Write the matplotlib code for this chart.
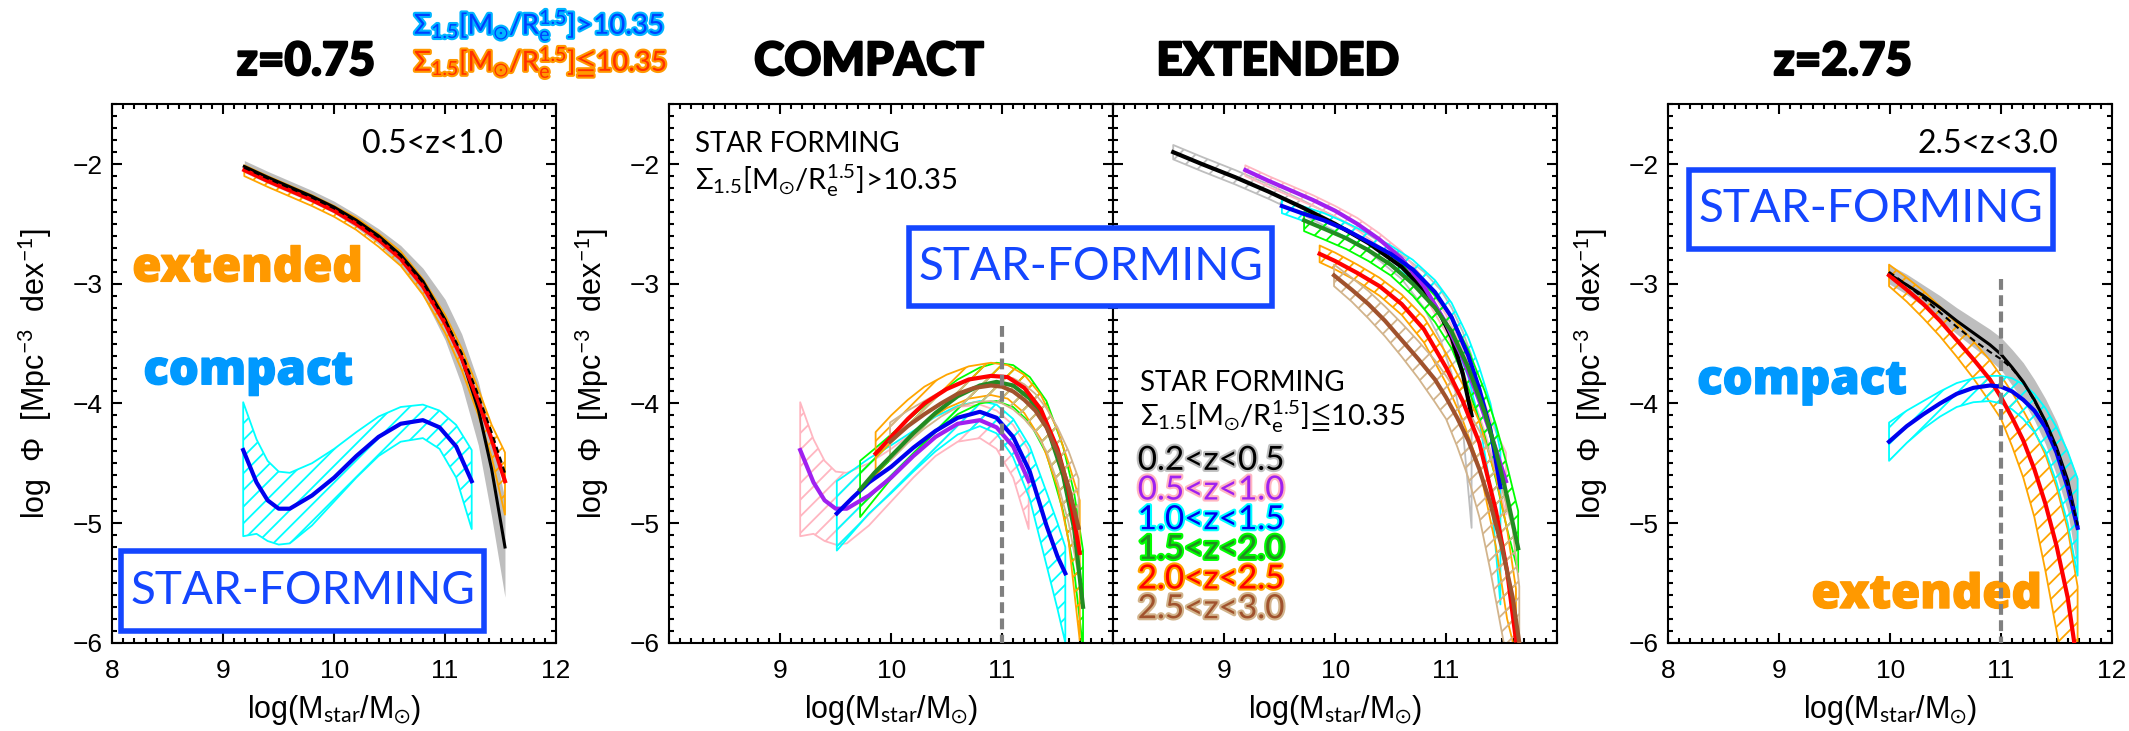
import matplotlib
matplotlib.use('Agg')
import matplotlib.pyplot as plt
import matplotlib.patheffects as pe
from matplotlib.patches import Rectangle
from matplotlib.ticker import MultipleLocator

plt.rcParams['font.family'] = ['Lato', 'DejaVu Sans']
plt.rcParams['mathtext.fontset'] = 'custom'
plt.rcParams['mathtext.rm'] = 'Lato'
plt.rcParams['mathtext.it'] = 'Lato:italic'
plt.rcParams['mathtext.bf'] = 'Lato:bold'
plt.rcParams['mathtext.sf'] = 'Lato'
plt.rcParams['mathtext.fallback'] = 'stixsans'
plt.rcParams['hatch.linewidth'] = 1.3

# ---------------- data (log stellar mass, log Phi) ----------------
# 0.5<z<1.0 (left panel; also the purple/pink curves of the middle panels)
LOWZ_X = [9.19, 9.4, 9.6, 9.8, 10.0, 10.2, 10.4, 10.6, 10.8, 11.0, 11.15, 11.3, 11.42, 11.54]
LOWZ_EXT = [-2.05, -2.14, -2.22, -2.30, -2.39, -2.50, -2.63, -2.79, -3.02, -3.33, -3.62, -3.98, -4.30, -4.65]
LOWZ_EXT_HI = [-2.01, -2.10, -2.18, -2.26, -2.35, -2.45, -2.58, -2.73, -2.96, -3.26, -3.54, -3.88, -4.18, -4.41]
LOWZ_EXT_LO = [-2.10, -2.19, -2.27, -2.35, -2.44, -2.55, -2.69, -2.85, -3.09, -3.41, -3.72, -4.10, -4.45, -4.93]
LOWZ_TOT = [-2.02, -2.11, -2.19, -2.27, -2.36, -2.47, -2.60, -2.76, -2.98, -3.30, -3.62, -4.05, -4.55, -5.20]
LOWZ_TOT_HI = [-1.97, -2.06, -2.14, -2.22, -2.31, -2.42, -2.54, -2.68, -2.87, -3.13, -3.42, -3.82, -4.28, -4.80]
LOWZ_TOT_LO = [-2.07, -2.16, -2.24, -2.32, -2.41, -2.53, -2.67, -2.85, -3.10, -3.47, -3.85, -4.35, -4.95, -5.62]
LOWZ_SUM = [-2.03, -2.12, -2.20, -2.28, -2.37, -2.48, -2.61, -2.77, -2.99, -3.30, -3.58, -3.93, -4.24, -4.58]

LOWZ_CX = [9.18, 9.3, 9.4, 9.5, 9.6, 9.8, 10.0, 10.2, 10.4, 10.6, 10.8, 10.95, 11.1, 11.24]
LOWZ_CMP = [-4.39, -4.66, -4.81, -4.88, -4.88, -4.77, -4.62, -4.44, -4.28, -4.17, -4.14, -4.20, -4.36, -4.65]
LOWZ_CMP_HI = [-3.99, -4.30, -4.48, -4.57, -4.58, -4.50, -4.38, -4.24, -4.11, -4.03, -4.01, -4.06, -4.18, -4.39]
LOWZ_CMP_LO = [-5.11, -5.09, -5.15, -5.18, -5.17, -5.02, -4.82, -4.62, -4.44, -4.32, -4.29, -4.38, -4.62, -5.05]

# 2.5<z<3.0 (right panel; also the brown/tan curves of the middle panels)
HIZ_X = [9.99, 10.15, 10.3, 10.45, 10.6, 10.75, 10.9, 11.0, 11.1, 11.2, 11.3, 11.4, 11.5, 11.6, 11.69]
HIZ_TOT = [-2.92, -3.01, -3.10, -3.20, -3.31, -3.41, -3.51, -3.59, -3.70, -3.82, -3.97, -4.15, -4.37, -4.64, -5.02]
HIZ_TOT_HI = [-2.84, -2.92, -3.01, -3.10, -3.20, -3.29, -3.38, -3.45, -3.55, -3.66, -3.80, -3.96, -4.15, -4.40, -4.62]
HIZ_TOT_LO = [-3.00, -3.09, -3.19, -3.30, -3.42, -3.53, -3.64, -3.72, -3.85, -3.98, -4.14, -4.34, -4.60, -4.90, -5.40]
HIZ_SUM = [-2.90, -3.01, -3.12, -3.24, -3.36, -3.47, -3.57, -3.63, -3.71, -3.82, -3.98, -4.15, -4.38, -4.68, -5.02]
HIZ_EXT_X = [9.99, 10.15, 10.3, 10.45, 10.6, 10.75, 10.9, 11.0, 11.1, 11.2, 11.3, 11.4, 11.5, 11.6, 11.66]
HIZ_EXT = [-2.93, -3.05, -3.17, -3.31, -3.47, -3.63, -3.80, -3.95, -4.12, -4.31, -4.55, -4.84, -5.19, -5.62, -6.00]
HIZ_EXT_HI = [-2.84, -2.95, -3.06, -3.19, -3.33, -3.48, -3.64, -3.77, -3.91, -4.06, -4.23, -4.43, -4.70, -5.05, -5.53]
HIZ_EXT_LO = [-3.02, -3.15, -3.29, -3.44, -3.61, -3.79, -3.99, -4.13, -4.36, -4.62, -4.95, -5.40, -5.90, -6.40, -6.60]
HIZ_CMP = [-4.32, -4.19, -4.09, -4.00, -3.92, -3.87, -3.85, -3.86, -3.90, -3.97, -4.06, -4.20, -4.41, -4.70, -5.04]
HIZ_CMP_HI = [-4.16, -4.06, -3.98, -3.90, -3.83, -3.79, -3.77, -3.77, -3.79, -3.84, -3.92, -4.04, -4.20, -4.40, -4.63]
HIZ_CMP_LO = [-4.48, -4.33, -4.21, -4.11, -4.03, -3.99, -3.98, -4.00, -4.05, -4.13, -4.24, -4.40, -4.66, -5.00, -5.44]

# compact, other redshift bins
Z10C_X = [9.51, 9.65, 9.8, 10.0, 10.2, 10.4, 10.6, 10.8, 10.95, 11.1, 11.25, 11.4, 11.5, 11.57]
Z10C = [-4.92, -4.79, -4.66, -4.53, -4.37, -4.23, -4.12, -4.07, -4.12, -4.28, -4.57, -5.02, -5.28, -5.42]
Z10C_HI = [-4.65, -4.56, -4.46, -4.35, -4.23, -4.11, -4.02, -3.98, -4.01, -4.13, -4.36, -4.74, -5.00, -5.20]
Z10C_LO = [-5.23, -5.08, -4.92, -4.75, -4.57, -4.40, -4.26, -4.19, -4.25, -4.45, -4.80, -5.35, -5.72, -6.00]
Z15C_X = [9.72, 9.85, 10.0, 10.2, 10.4, 10.6, 10.8, 10.95, 11.1, 11.25, 11.4, 11.55, 11.65, 11.73]
Z15C = [-4.72, -4.58, -4.44, -4.25, -4.08, -3.94, -3.85, -3.82, -3.85, -3.96, -4.18, -4.60, -5.05, -5.70]
Z15C_HI = [-4.48, -4.38, -4.26, -4.10, -3.94, -3.80, -3.70, -3.66, -3.68, -3.78, -3.98, -4.36, -4.75, -5.23]
Z15C_LO = [-4.95, -4.80, -4.63, -4.42, -4.24, -4.09, -4.00, -3.98, -4.03, -4.16, -4.42, -4.90, -5.40, -6.05]
Z20C_X = [9.86, 10.0, 10.15, 10.3, 10.5, 10.7, 10.9, 11.05, 11.2, 11.35, 11.5, 11.6, 11.7]
Z20C = [-4.42, -4.28, -4.13, -4.00, -3.88, -3.80, -3.77, -3.78, -3.87, -4.05, -4.38, -4.72, -5.25]
Z20C_HI = [-4.24, -4.10, -3.97, -3.86, -3.76, -3.69, -3.66, -3.68, -3.76, -3.93, -4.22, -4.50, -4.81]
Z20C_LO = [-4.60, -4.45, -4.30, -4.16, -4.04, -3.96, -3.93, -3.96, -4.08, -4.30, -4.70, -5.15, -5.98]

# extended, other redshift bins
Z02E_X = [8.54, 8.8, 9.1, 9.4, 9.7, 10.0, 10.3, 10.6, 10.8, 10.95, 11.05, 11.15, 11.23]
Z02E = [-1.90, -2.00, -2.11, -2.23, -2.36, -2.50, -2.66, -2.86, -3.05, -3.26, -3.45, -3.75, -4.10]
Z02E_HI = [-1.84, -1.94, -2.05, -2.17, -2.30, -2.44, -2.59, -2.76, -2.90, -3.05, -3.20, -3.40, -3.60]
Z02E_LO = [-1.96, -2.06, -2.17, -2.29, -2.42, -2.56, -2.73, -2.96, -3.20, -3.47, -3.75, -4.20, -5.04]
Z10E_X = [9.52, 9.7, 9.9, 10.1, 10.3, 10.5, 10.7, 10.9, 11.05, 11.2, 11.3, 11.4, 11.49]
Z10E = [-2.35, -2.41, -2.47, -2.55, -2.65, -2.75, -2.88, -3.07, -3.28, -3.60, -3.88, -4.22, -4.70]
Z10E_HI = [-2.29, -2.35, -2.41, -2.49, -2.58, -2.68, -2.80, -2.97, -3.16, -3.45, -3.70, -4.00, -4.40]
Z10E_LO = [-2.41, -2.47, -2.53, -2.61, -2.72, -2.83, -2.97, -3.18, -3.42, -3.78, -4.15, -4.70, -5.68]
Z15E_X = [9.72, 9.9, 10.1, 10.3, 10.5, 10.7, 10.9, 11.05, 11.2, 11.35, 11.45, 11.55, 11.65]
Z15E = [-2.47, -2.54, -2.62, -2.72, -2.84, -3.00, -3.20, -3.40, -3.70, -4.08, -4.40, -4.78, -5.21]
Z15E_HI = [-2.40, -2.47, -2.55, -2.65, -2.76, -2.91, -3.10, -3.28, -3.55, -3.90, -4.18, -4.52, -4.90]
Z15E_LO = [-2.56, -2.63, -2.71, -2.81, -2.93, -3.10, -3.32, -3.54, -3.87, -4.28, -4.64, -5.05, -5.41]
Z20E_X = [9.86, 10.0, 10.2, 10.4, 10.6, 10.8, 11.0, 11.15, 11.3, 11.45, 11.55, 11.63]
Z20E = [-2.75, -2.81, -2.91, -3.02, -3.17, -3.38, -3.70, -3.98, -4.33, -4.90, -5.40, -5.98]
Z20E_HI = [-2.68, -2.74, -2.84, -2.95, -3.09, -3.28, -3.58, -3.84, -4.15, -4.62, -5.05, -5.55]
Z20E_LO = [-2.82, -2.88, -2.98, -3.10, -3.26, -3.49, -3.83, -4.14, -4.53, -5.20, -5.80, -6.10]

ZBINS = ['0.2<z<0.5', '0.5<z<1.0', '1.0<z<1.5', '1.5<z<2.0', '2.0<z<2.5', '2.5<z<3.0']
LINE_COLORS = ['#000000', '#a020f0', '#0000ee', '#228b22', '#ff0000', '#a0522d']
BAND_COLORS = ['#bebebe', '#ffb6c1', '#00ffff', '#00ff00', '#ffa500', '#d2b48c']
TITLES = ['z=0.75', 'COMPACT', 'EXTENDED', 'z=2.75']

SIG_GT = r'$\Sigma_{1.5}[\mathrm{M}_{\odot}/\mathrm{R}_{\mathrm{e}}^{1.5}]\!>\!10.35$'
SIG_LE = r'$\Sigma_{1.5}[\mathrm{M}_{\odot}/\mathrm{R}_{\mathrm{e}}^{1.5}]\!\leqq\!10.35$'

W, H = 2129, 731
BOXBLUE = '#1446ff'
TICKFONT = 'Liberation Sans'

fig = plt.figure(figsize=(W / 100, H / 100), dpi=100)
bot, hgt = 88.3 / H, 538.4 / H
lefts = [112.3, 669.3, 1113.3, 1668.3]
axes = [fig.add_axes([l / W, bot, 443.7 / W, hgt]) for l in lefts]


def band(ax, x, lo, hi, color, solid=False):
    if solid:
        ax.fill_between(x, lo, hi, color=color, lw=0, zorder=1)
    else:
        ax.fill_between(x, lo, hi, facecolor='none', edgecolor=color,
                        hatch='//', lw=1.3, zorder=2)


def setup(ax, xlabels, ylabels):
    ax.set_xlim(8, 12)
    ax.set_ylim(-6, -1.5)
    ax.set_xticks([8, 9, 10, 11, 12])
    ax.set_xticklabels(xlabels)
    ax.set_yticks([-6, -5, -4, -3, -2])
    ax.xaxis.set_minor_locator(MultipleLocator(0.1))
    ax.yaxis.set_minor_locator(MultipleLocator(0.1))
    ax.tick_params(which='both', direction='in', top=True, right=True, width=1.5)
    ax.tick_params(which='major', length=7)
    ax.tick_params(which='minor', length=3.5)
    ax.tick_params(axis='x', pad=12, labelsize=19)
    ax.tick_params(axis='y', pad=7, labelsize=19, labelleft=ylabels)
    for lab in ax.get_xticklabels() + ax.get_yticklabels():
        lab.set_family(TICKFONT)
    for s in ax.spines.values():
        s.set_linewidth(1.5)
    ax.set_xlabel(r'log(M$_{\mathrm{star}}$/M$_{\odot}$)', fontsize=22,
                  family=TICKFONT, va='center')
    ax.xaxis.set_label_coords(0.5, -0.125)
    if ylabels:
        ax.set_ylabel('log  Φ  [Mpc$^{-3}$  dex$^{-1}$]', fontsize=22,
                      family=TICKFONT, va='center')
        ax.yaxis.set_label_coords(-0.174, 0.5)


def heavy(ax, x, y, s, color):
    ax.text(x, y, s, color=color, fontsize=34, family=['Open Sans', 'Lato'],
            fontweight=800, va='baseline',
            path_effects=[pe.withStroke(linewidth=1, foreground=color)])


full = ['8', '9', '10', '11', '12']
inner = ['', '9', '10', '11', '']
setup(axes[0], full, True)
setup(axes[1], inner, True)
setup(axes[2], inner, False)
setup(axes[3], full, True)

# left panel: 0.5<z<1.0
ax = axes[0]
band(ax, LOWZ_X, LOWZ_TOT_LO, LOWZ_TOT_HI, '#bebebe', solid=True)
band(ax, LOWZ_X, LOWZ_EXT_LO, LOWZ_EXT_HI, '#ffa500')
band(ax, LOWZ_CX, LOWZ_CMP_LO, LOWZ_CMP_HI, '#00ffff')
ax.plot(LOWZ_X, LOWZ_TOT, color='k', lw=2.2, zorder=3)
ax.plot(LOWZ_X, LOWZ_EXT, color='#ff0000', lw=3, zorder=4)
ax.plot(LOWZ_X, LOWZ_SUM, color='k', lw=1.5, ls=(0, (3, 2)), zorder=5)
ax.plot(LOWZ_CX, LOWZ_CMP, color='#0000ee', lw=3, zorder=4)
ax.text(11.52, -1.83, '0.5<z<1.0', ha='right', va='center', fontsize=23)
heavy(ax, 8.18, -2.98, 'extended', '#ff9900')
heavy(ax, 8.28, -3.84, 'compact', '#0099ff')

# compact panel
ax = axes[1]
cmp_bins = [None,
            (LOWZ_CX, LOWZ_CMP, LOWZ_CMP_LO, LOWZ_CMP_HI),
            (Z10C_X, Z10C, Z10C_LO, Z10C_HI),
            (Z15C_X, Z15C, Z15C_LO, Z15C_HI),
            (Z20C_X, Z20C, Z20C_LO, Z20C_HI),
            (HIZ_X, HIZ_CMP, HIZ_CMP_LO, HIZ_CMP_HI)]
for i, b in enumerate(cmp_bins):
    if b is None:
        continue
    band(ax, b[0], b[2], b[3], BAND_COLORS[i])
    ax.plot(b[0], b[1], color=LINE_COLORS[i], lw=3, zorder=3)
ax.plot([11, 11], [-3.35, -6], color='#808080', lw=3, ls=(0, (2.6, 1.3)), zorder=6)
ax.text(8.23, -1.83, 'STAR FORMING', va='center', fontsize=20)
ax.text(8.23, -2.14, SIG_GT, va='center', fontsize=21)

# extended panel
ax = axes[2]
ext_bins = [(Z02E_X, Z02E, Z02E_LO, Z02E_HI),
            (LOWZ_X, LOWZ_EXT, LOWZ_EXT_LO, LOWZ_EXT_HI),
            (Z10E_X, Z10E, Z10E_LO, Z10E_HI),
            (Z15E_X, Z15E, Z15E_LO, Z15E_HI),
            (Z20E_X, Z20E, Z20E_LO, Z20E_HI),
            (HIZ_EXT_X, HIZ_EXT, HIZ_EXT_LO, HIZ_EXT_HI)]
for i, b in enumerate(ext_bins):
    band(ax, b[0], b[2], b[3], BAND_COLORS[i])
    ax.plot(b[0], b[1], color=LINE_COLORS[i], lw=3, zorder=3)
ax.text(8.24, -3.83, 'STAR FORMING', va='center', fontsize=20)
ax.text(8.24, -4.11, SIG_LE, va='center', fontsize=21)
for i, lab in enumerate(ZBINS):
    ax.text(8.22, -4.48 - 0.248 * i, lab, va='center', fontsize=24,
            color=LINE_COLORS[i], zorder=8,
            path_effects=[pe.withStroke(linewidth=3, foreground=BAND_COLORS[i])])

# right panel: 2.5<z<3.0
ax = axes[3]
band(ax, HIZ_X, HIZ_TOT_LO, HIZ_TOT_HI, '#bebebe', solid=True)
band(ax, HIZ_X, HIZ_EXT_LO, HIZ_EXT_HI, '#ffa500')
band(ax, HIZ_X, HIZ_CMP_LO, HIZ_CMP_HI, '#00ffff')
ax.plot(HIZ_X, HIZ_TOT, color='k', lw=2.2, zorder=3)
ax.plot(HIZ_EXT_X, HIZ_EXT, color='#ff0000', lw=3, zorder=4)
ax.plot(HIZ_X, HIZ_CMP, color='#0000ee', lw=3, zorder=4)
ax.plot(HIZ_X, HIZ_SUM, color='k', lw=1.5, ls=(0, (3, 2)), zorder=5)
ax.plot([11, 11], [-2.96, -6], color='#808080', lw=3, ls=(0, (2.6, 1.3)), zorder=6)
ax.text(11.52, -1.83, '2.5<z<3.0', ha='right', va='center', fontsize=23)
heavy(ax, 8.26, -3.92, 'compact', '#0099ff')
heavy(ax, 9.29, -5.71, 'extended', '#ff9900')

# STAR-FORMING boxes (figure pixel coordinates, y from top)
for x0, y0, x1, y1 in [(121, 551, 484, 631), (909, 228, 1272, 306), (1689, 170, 2053, 249)]:
    fig.add_artist(Rectangle((x0 / W, 1 - y1 / H), (x1 - x0) / W, (y1 - y0) / H,
                             transform=fig.transFigure, facecolor='white',
                             edgecolor=BOXBLUE, lw=4, zorder=10))
    fig.text((x0 + x1) / 2 / W, 1 - (y0 + y1) / 2 / H, 'STAR-FORMING',
             ha='center', va='center', color=BOXBLUE, fontsize=33, zorder=11)

# titles and top legend
for t, xc in zip(TITLES, [306, 869, 1278, 1843]):
    fig.text(xc / W, 1 - 62 / H, t, ha='center', va='center', fontsize=33,
             fontweight='black',
             path_effects=[pe.withStroke(linewidth=1.5, foreground='k')])
fig.text(414 / W, 1 - 25 / H, SIG_GT, va='center', fontsize=20, color='#0040ff',
         path_effects=[pe.withStroke(linewidth=3, foreground='#00b4ff')])
fig.text(414 / W, 1 - 62 / H, SIG_LE, va='center', fontsize=20, color='#ff3000',
         path_effects=[pe.withStroke(linewidth=3, foreground='#ff9900')])

fig.savefig('out.png', dpi=100)
